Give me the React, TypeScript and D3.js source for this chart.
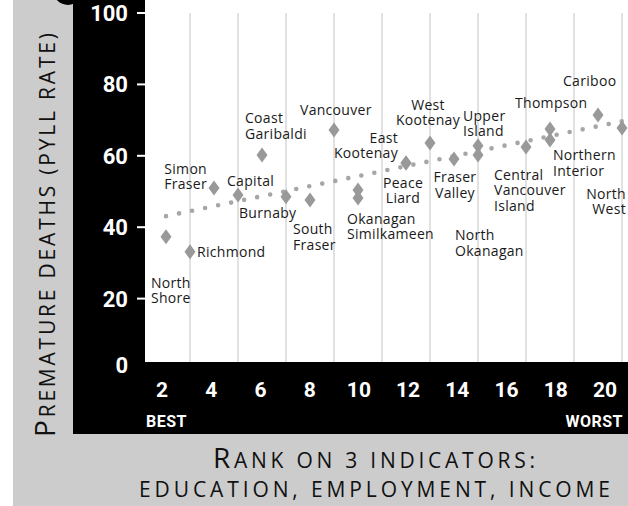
import React from 'react';
import * as d3 from 'd3';

// health regions, their rank on 3 indicators and premature death rate
const regions = [
  'North Shore', 'Richmond', 'Simon Fraser', 'Capital', 'Coast Garibaldi',
  'Burnaby', 'South Fraser', 'Vancouver', 'Okanagan Similkameen', '',
  'East Kootenay', 'Peace Liard', 'West Kootenay', 'Fraser Valley', 'Upper Island',
  'North Okanagan', 'Central Vancouver Island', 'Thompson', 'Northern Interior',
  'Cariboo', 'North West',
];
const ranks = [1, 2, 3, 4, 5, 6, 7, 8, 9, 9, 11, 11, 12, 13, 14, 14, 16, 17, 17, 19, 20];
const pyll = [
  37.3, 33.1, 51.0, 49.0, 60.2, 48.5, 47.6, 67.2, 48.2, 50.4,
  58.0, 58.0, 63.6, 59.1, 62.8, 60.2, 62.5, 67.5, 64.4, 71.4, 67.8,
];

// trend line end points (rank, rate)
const trendRanks = [1, 20];
const trendValues = [43.1, 69.7];

const yTicks = [0, 20, 40, 60, 80, 100];
const xTicks = [2, 4, 6, 8, 10, 12, 14, 16, 18, 20];

// label placement relative to its diamond
const labelLayout: Record<string, { lines: string[]; dx: number; dy: number; anchor?: string }> = {
  'North Shore': { lines: ['North', 'Shore'], dx: -15, dy: 51 },
  'Richmond': { lines: ['Richmond'], dx: 7, dy: 5 },
  'Simon Fraser': { lines: ['Simon', 'Fraser'], dx: -7, dy: -14, anchor: 'end' },
  'Capital': { lines: ['Capital'], dx: -11, dy: -9 },
  'Coast Garibaldi': { lines: ['Coast', 'Garibaldi'], dx: -17, dy: -32 },
  'Burnaby': { lines: ['Burnaby'], dx: -47, dy: 21 },
  'South Fraser': { lines: ['South', 'Fraser'], dx: -17, dy: 34 },
  'Vancouver': { lines: ['Vancouver'], dx: -34, dy: -15 },
  'Okanagan Similkameen': { lines: ['Okanagan', 'Similkameen'], dx: -11, dy: 26 },
  'East Kootenay': { lines: ['East', 'Kootenay'], dx: -8, dy: -20, anchor: 'end' },
  'Peace Liard': { lines: ['Peace', 'Liard'], dx: -3, dy: 25, anchor: 'middle' },
  'West Kootenay': { lines: ['West', 'Kootenay'], dx: -2, dy: -33, anchor: 'middle' },
  'Fraser Valley': { lines: ['Fraser', 'Valley'], dx: 1, dy: 23, anchor: 'middle' },
  'Upper Island': { lines: ['Upper', 'Island'], dx: -15, dy: -25 },
  'North Okanagan': { lines: ['North', 'Okanagan'], dx: -23, dy: 85 },
  'Central Vancouver Island': { lines: ['Central', 'Vancouver', 'Island'], dx: -32, dy: 33 },
  'Thompson': { lines: ['Thompson'], dx: -35, dy: -21 },
  'Northern Interior': { lines: ['Northern', 'Interior'], dx: 3, dy: 20 },
  'Cariboo': { lines: ['Cariboo'], dx: -35, dy: -29 },
  'North West': { lines: ['North', 'West'], dx: 4, dy: 71, anchor: 'end' },
};

const diamond = 'M0,-7.5L5.5,0L0,7.5L-5.5,0Z';
const labelFont = "'Open Sans', sans-serif";
const tickFont = "Roboto, 'Open Sans', sans-serif";
const titleFont = "'Open Sans', sans-serif";
const lineStep = 15.5;

export default function App() {
  const W = 628;
  const H = 506;
  const plotLeft = 145;
  const plotBottom = 362;
  const blackLeft = 73;
  const blackBottom = 434;
  const grayLeft = 13;

  const x = d3.scaleLinear().domain([1, 20]).range([166, 622]);
  const y = d3.scaleLinear().domain([0, 100]).range([370, 13]);
  // the rank labels sit on a slightly wider spacing than the grid
  const tickX = d3.scaleLinear().domain([2, 20]).range([162, 605]);

  const trend = d3.line<number>()
    .x((_, i) => x(trendRanks[i]))
    .y(d => y(d));

  return (
    <svg width={W} height={H} style={{ position: 'absolute', left: 0, top: 0, background: '#fff' }}>
      <rect x={grayLeft} y={0} width={W - grayLeft} height={H} fill="#cccccc" />
      <circle cx={68} cy={-10} r={15} fill="#000" />
      <rect x={blackLeft} y={0} width={W - blackLeft} height={blackBottom} fill="#000" />
      <rect x={plotLeft} y={0} width={W - plotLeft} height={plotBottom} fill="#fff" />

      {/* vertical grid */}
      {xTicks.map(t => (
        <line key={'g' + t} x1={x(t)} x2={x(t)} y1={y(100)} y2={plotBottom}
          stroke="#dadada" strokeWidth={1.6} />
      ))}

      {/* trend */}
      <path d={trend(trendValues) || ''} fill="none" stroke="#a6a6a6" strokeWidth={4.6}
        strokeLinecap="round" strokeDasharray="0 13.3" />

      {/* points */}
      {pyll.map((v, i) => (
        <path key={'p' + i} d={diamond} transform={`translate(${x(ranks[i])},${y(v)})`} fill="#999" />
      ))}

      {/* region labels, one text per line */}
      {regions.map((name, i) => {
        const l = labelLayout[name];
        if (!l) return null;
        const px = x(ranks[i]) + l.dx;
        const py = y(pyll[i]) + l.dy;
        return (
          <g key={'l' + i}>
            {l.lines.map((s, j) => (
              <text key={j} x={px} y={py + j * lineStep} textAnchor={l.anchor || 'start'}
                fontFamily={labelFont} fontSize={14} letterSpacing={0.3} fill="#1a1a1a">{s}</text>
            ))}
          </g>
        );
      })}

      {/* y axis */}
      {yTicks.map(t => (
        <g key={'y' + t}>
          {t > 0 && <line x1={137} x2={plotLeft} y1={y(t)} y2={y(t)} stroke="#fff" strokeWidth={2} />}
          <text x={128} y={(t > 0 ? y(t) : y(t) - 5) + 8} textAnchor="end" fill="#fff"
            fontFamily={tickFont} fontWeight={700} fontSize={22}>{t}</text>
        </g>
      ))}

      {/* x axis */}
      {xTicks.map(t => (
        <text key={'x' + t} x={tickX(t)} y={397} textAnchor="middle" fill="#fff"
          fontFamily={tickFont} fontWeight={700} fontSize={21}>{t}</text>
      ))}
      <text x={plotLeft + 1} y={427} fill="#fff" fontFamily={tickFont} fontWeight={700}
        fontSize={16} letterSpacing={0.5}>BEST</text>
      <text x={623} y={427} textAnchor="end" fill="#fff" fontFamily={tickFont} fontWeight={700}
        fontSize={16} letterSpacing={0.5}>WORST</text>

      {/* axis titles */}
      <text x={374} y={468} textAnchor="middle" fontFamily={titleFont} fill="#111"
        textLength={322} lengthAdjust="spacing">
        <tspan fontSize={28}>R</tspan><tspan fontSize={21}>ANK ON 3 INDICATORS:</tspan>
      </text>
      <text x={374.5} y={497} textAnchor="middle" fontFamily={titleFont} fill="#111" fontSize={21}
        textLength={471} lengthAdjust="spacing">EDUCATION, EMPLOYMENT, INCOME</text>
      <text transform={`translate(55,235) rotate(-90)`} textAnchor="middle" fontFamily={titleFont}
        fill="#111" textLength={404} lengthAdjust="spacing">
        <tspan fontSize={28}>P</tspan><tspan fontSize={21}>REMATURE DEATHS (PYLL RATE)</tspan>
      </text>
    </svg>
  );
}
